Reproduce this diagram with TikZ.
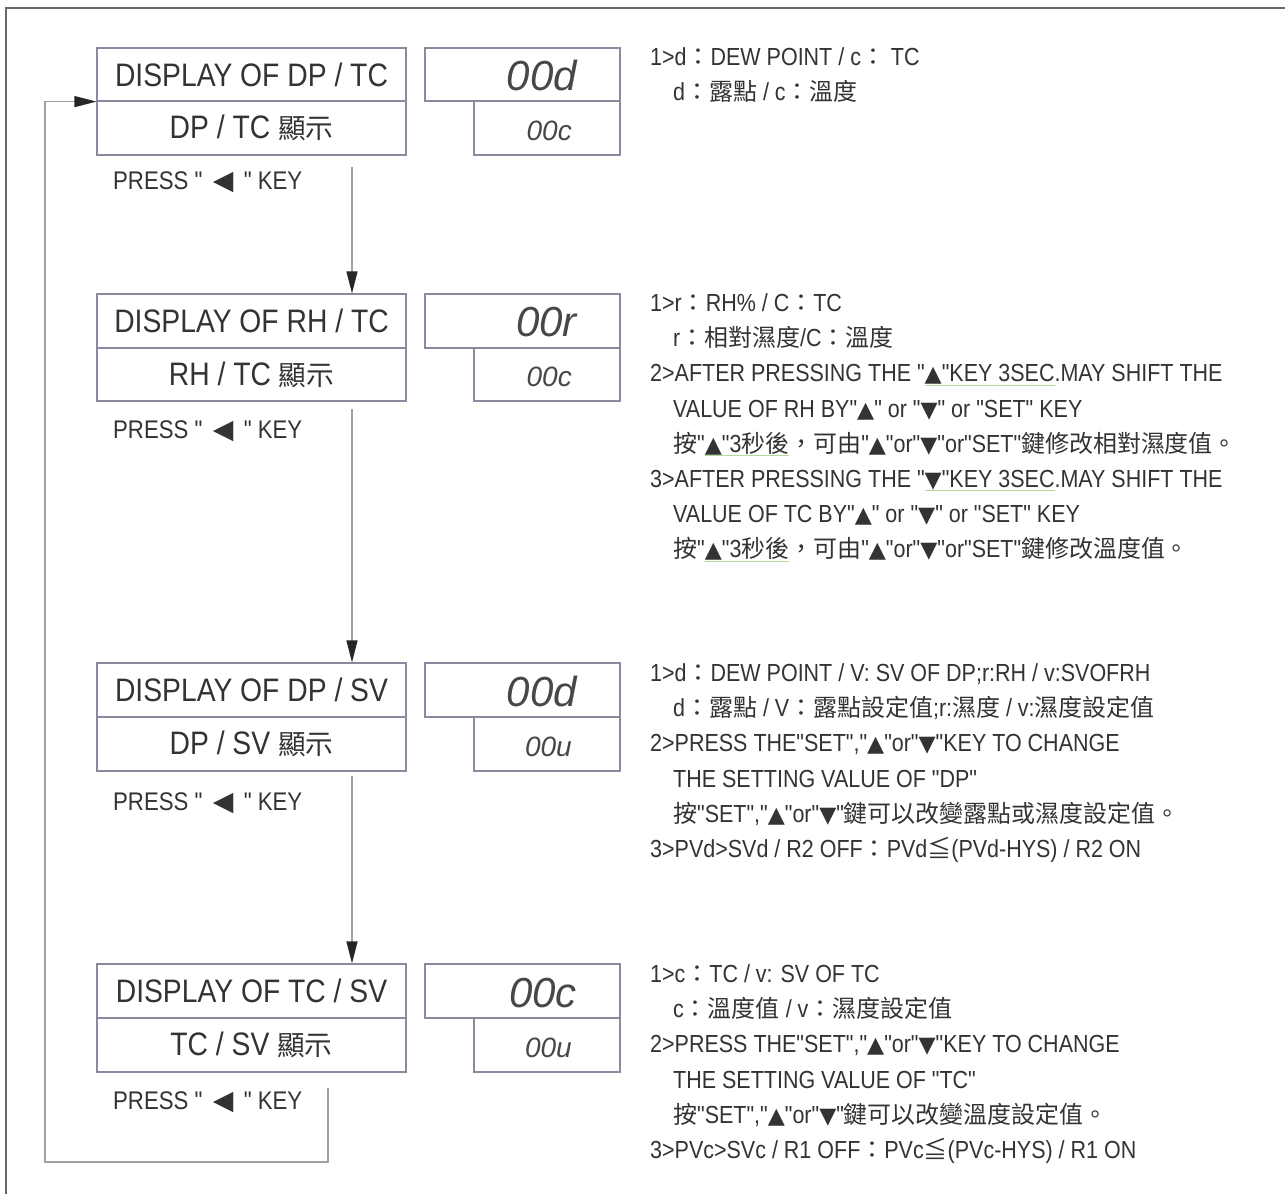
\documentclass[tikz,border=0pt]{standalone}
\usepackage{fontspec}
\usetikzlibrary{arrows.meta}
\setmainfont{Liberation Sans}[FakeStretch=0.87, Ligatures=TeXOff]
\newfontfamily\cjkA{Noto Sans CJK TC}[Scale=0.85]
\newfontfamily\cjkB{Noto Sans CJK TC}[Scale=0.97]
\newfontfamily\symf{DejaVu Sans}[Scale=0.9]
\newfontfamily\symL{DejaVu Sans}[Scale=1.05]
\newfontfamily\segf{Liberation Sans}[Ligatures=TeXOff]
\definecolor{txt}{HTML}{333333}
\definecolor{bline}{HTML}{8A8A9E}
\definecolor{aline}{HTML}{A0A0A0}
\definecolor{frm}{HTML}{6E6668}
\definecolor{ulc}{HTML}{B8D89A}
\newcommand\CA[1]{{\cjkA #1}}
\newcommand\CB[1]{{\cjkB #1}}
\newcommand\TriUp{{\symf ▲}}
\newcommand\TriDn{{\symf ▼}}
\newcommand\TriLf{{\symL ◀}}
\newsavebox\ulbox
\newcommand\ULx[1]{\sbox\ulbox{#1}\rlap{\color{ulc}\rule[-4pt]{\wd\ulbox}{1pt}}\usebox\ulbox}
\tikzset{
  tbox/.style={draw=bline, line width=1.2pt, minimum width=309pt, inner sep=0pt, text=txt, font=\fontsize{32.5}{36}\selectfont},
  segbig/.style={draw=bline, line width=1.2pt, minimum width=195pt, minimum height=53pt, inner sep=0pt},
  segsmall/.style={draw=bline, line width=1.2pt, minimum width=146pt, minimum height=54pt, inner sep=0pt},
  segtxtB/.style={anchor=base east, inner sep=0pt, text=txt!90, font=\segf\itshape\fontsize{42}{42}\selectfont},
  segtxtS/.style={anchor=base east, inner sep=0pt, text=txt!90, font=\segf\itshape\fontsize{28}{28}\selectfont},
  presstxt/.style={anchor=base west, inner sep=0pt, text=txt, font=\fontsize{25.5}{28}\selectfont},
  rt/.style={anchor=base west, inner sep=0pt, text=txt, font=\fontsize{24.7}{30}\selectfont},
  conn/.style={draw=aline, line width=1.2pt, -{Triangle[width=11pt,length=22pt,color=black!85]}},
}
\begin{document}
\begin{tikzpicture}[x=1pt,y=-1pt]
\useasboundingbox (0,0) rectangle (1285,1194);
\draw[frm, line width=1.8pt] (6,1194) -- (6,8) -- (1285,8);

% ---- block 1
\node[tbox, minimum height=53pt] (t1) at (251.5,74.5) {DISPLAY OF DP / TC};
\node[tbox, minimum height=54pt] (c1) at (251.5,128) {DP / TC \CA{顯示}};
\node[segbig] (d1) at (522.5,74.5) {};
\node[segsmall] (s1) at (547,128) {};
\node[segtxtB] (d1t) at (577,90) {00d};
\node[segtxtS] (s1t) at (572,140) {00c};
\node[presstxt] (p1) at (113,189) {PRESS "\, \TriLf{}\, " KEY};

% ---- block 2
\node[tbox, minimum height=54pt] (t2) at (251.5,321) {DISPLAY OF RH / TC};
\node[tbox, minimum height=53pt] (c2) at (251.5,374.5) {RH / TC \CA{顯示}};
\node[segbig, minimum height=54pt] (d2) at (522.5,321) {};
\node[segsmall, minimum height=53pt] (s2) at (547,374.5) {};
\node[segtxtB] (d2t) at (577,336) {00r};
\node[segtxtS] (s2t) at (572,386) {00c};
\node[presstxt] (p2) at (113,438) {PRESS "\, \TriLf{}\, " KEY};

% ---- block 3
\node[tbox, minimum height=54pt] (t3) at (251.5,690) {DISPLAY OF DP / SV};
\node[tbox, minimum height=54pt] (c3) at (251.5,744) {DP / SV \CA{顯示}};
\node[segbig, minimum height=54pt] (d3) at (522.5,690) {};
\node[segsmall] (s3) at (547,744) {};
\node[segtxtB] (d3t) at (577,706) {00d};
\node[segtxtS] (s3t) at (572,756) {00u};
\node[presstxt] (p3) at (113,810) {PRESS "\, \TriLf{}\, " KEY};

% ---- block 4
\node[tbox, minimum height=54pt] (t4) at (251.5,991) {DISPLAY OF TC / SV};
\node[tbox, minimum height=54pt] (c4) at (251.5,1045) {TC / SV \CA{顯示}};
\node[segbig, minimum height=54pt] (d4) at (522.5,991) {};
\node[segsmall] (s4) at (547,1045) {};
\node[segtxtB] (d4t) at (577,1007) {00c};
\node[segtxtS] (s4t) at (572,1057) {00u};
\node[presstxt] (p4) at (113,1109) {PRESS "\, \TriLf{}\, " KEY};

% ---- connectors
\coordinate (a1) at (352,167);
\coordinate (a2) at (352,409);
\coordinate (a3) at (352,776);
\draw[conn] (a1) -- (a1 |- t2.north);
\draw[conn] (a2) -- (a2 |- t3.north);
\draw[conn] (a3) -- (a3 |- t4.north);
\coordinate (f0) at (328,1088);
\coordinate (f1) at (45,1162);
\draw[conn] (f0) |- (f1) |- (t1.south west);

% ---- right texts block 1
\node[rt] (r1a) at (650,65.5) {1>d\CB{：}DEW POINT / c\CB{：} TC};
\node[rt] (r1b) at (673,100) {d\CB{：露點} / c\CB{：溫度}};

% ---- block 2
\node[rt] (r2a) at (650,311.5) {1>r\CB{：}RH\% / C\CB{：}TC};
\node[rt] (r2b) at (673,346.7) {r\CB{：相對濕度}/C\CB{：溫度}};
\node[rt] (r2c) at (650,381.8) {2>AFTER PRESSING THE "\ULx{\TriUp"KEY 3SEC}.MAY SHIFT THE};
\node[rt] (r2d) at (673,417.0) {VALUE OF RH BY"\TriUp" or "\TriDn" or "SET" KEY};
\node[rt] (r2e) at (673,452.1) {\CB{按}"\ULx{\TriUp"3\CB{秒後}}\CB{，可由}"\TriUp"or"\TriDn"or"SET"\CB{鍵修改相對濕度值。}};
\node[rt] (r2f) at (650,487.3) {3>AFTER PRESSING THE "\ULx{\TriDn"KEY 3SEC}.MAY SHIFT THE};
\node[rt] (r2g) at (673,522.4) {VALUE OF TC BY"\TriUp" or "\TriDn" or "SET" KEY};
\node[rt] (r2h) at (673,557.6) {\CB{按}"\ULx{\TriUp"3\CB{秒後}}\CB{，可由}"\TriUp"or"\TriDn"or"SET"\CB{鍵修改溫度值。}};

% ---- block 3
\node[rt] (r3a) at (650,681.5) {1>d\CB{：}DEW POINT / V: SV OF DP;r:RH / v:SVOFRH};
\node[rt] (r3b) at (673,716.7) {d\CB{：露點} / V\CB{：露點設定值};r:\CB{濕度} / v:\CB{濕度設定值}};
\node[rt] (r3c) at (650,751.8) {2>PRESS THE"SET","\TriUp"or"\TriDn"KEY TO CHANGE};
\node[rt] (r3d) at (673,787.0) {THE SETTING VALUE OF "DP"};
\node[rt] (r3e) at (673,822.1) {\CB{按}"SET","\TriUp"or"\TriDn"\CB{鍵可以改變露點或濕度設定值。}};
\node[rt] (r3f) at (650,857.3) {3>PVd>SVd / R2 OFF\CB{：}PVd\CB{≦}(PVd-HYS) / R2 ON};

% ---- block 4
\node[rt] (r4a) at (650,982.5) {1>c\CB{：}TC / v: SV OF TC};
\node[rt] (r4b) at (673,1017.7) {c\CB{：溫度值} / v\CB{：濕度設定值}};
\node[rt] (r4c) at (650,1052.8) {2>PRESS THE"SET","\TriUp"or"\TriDn"KEY TO CHANGE};
\node[rt] (r4d) at (673,1088.0) {THE SETTING VALUE OF "TC"};
\node[rt] (r4e) at (673,1123.1) {\CB{按}"SET","\TriUp"or"\TriDn"\CB{鍵可以改變溫度設定值。}};
\node[rt] (r4f) at (650,1158.3) {3>PVc>SVc / R1 OFF\CB{：}PVc\CB{≦}(PVc-HYS) / R1 ON};
\end{tikzpicture}
\end{document}
